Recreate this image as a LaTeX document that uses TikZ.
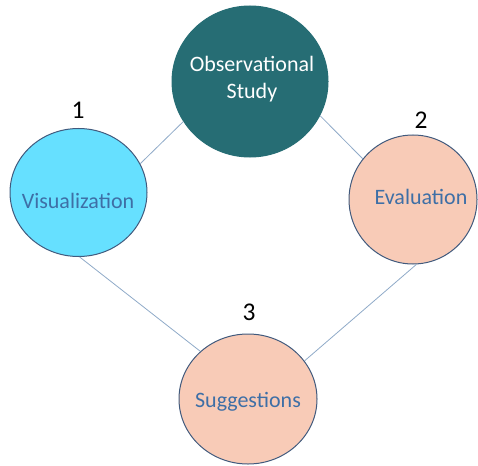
\documentclass[tikz,border=0pt]{standalone}
\usepackage{fontspec}
\setmainfont{Carlito}
\usetikzlibrary{shapes.geometric}
\definecolor{teal1}{RGB}{38,109,116}
\definecolor{cyan1}{RGB}{102,224,255}
\definecolor{peach}{RGB}{248,203,183}
\definecolor{rim}{RGB}{65,90,125}
\definecolor{ink}{RGB}{62,111,166}
\definecolor{wire}{RGB}{143,170,200}
\tikzset{
  blob/.style={ellipse, draw=rim, line width=1pt, inner sep=0pt},
  word/.style={font=\fontsize{22}{27}\selectfont, text=ink, anchor=base, inner sep=0pt, align=center},
  num/.style={font=\fontsize{25.5}{30}\selectfont, text=black, anchor=base, inner sep=0pt},
  link/.style={draw=wire, line width=0.8pt}
}
\begin{document}
\begin{tikzpicture}[x=1pt,y=-1pt]
\useasboundingbox (0,0) rectangle (478,465);
\node[blob, fill=teal1, draw=teal1, minimum width=156pt, minimum height=151pt] (obs) at (250,81.5) {};
\node[blob, fill=cyan1, minimum width=137pt, minimum height=128pt] (vis) at (78.5,192.5) {};
\node[blob, fill=peach, minimum width=128pt, minimum height=129pt] (eva) at (413,199.5) {};
\node[blob, fill=peach, minimum width=138pt, minimum height=130pt] (sug) at (248,399) {};
\draw[link] (vis.25) -- (obs.211);
\draw[link] (obs.334) -- (eva.141);
\draw[link] (vis.271) -- (sug.135.6);
\draw[link] (eva.273.5) -- (sug.34.4);
\node[word, text=white] (obst1) at (252,71.7) {Observational};
\node[word, text=white] (obst2) at (252,98.7) {Study};
\node[word] (vist) at (78,208.3) {Visualization};
\node[word] (evat) at (421,204.7) {Evaluation};
\node[word] (sugt) at (248,407) {Suggestions};
\node[num] (n1) at (78,119) {1};
\node[num] (n2) at (421,128.3) {2};
\node[num] (n3) at (249,320.7) {3};
\end{tikzpicture}
\end{document}
